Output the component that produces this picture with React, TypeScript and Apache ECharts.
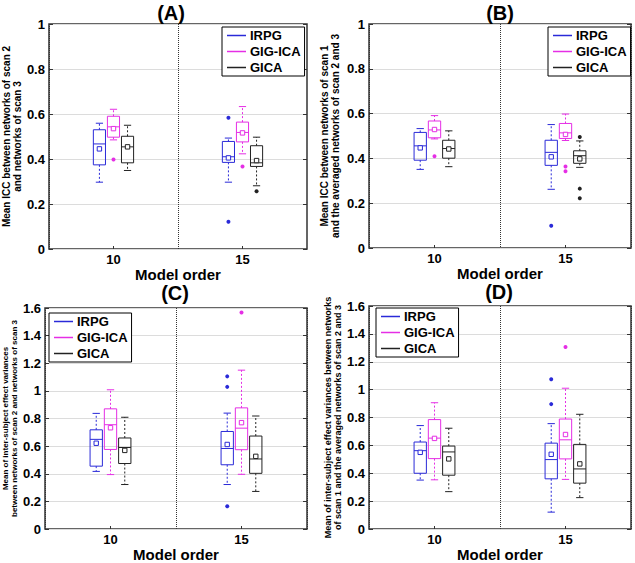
import React, { useEffect, useRef } from "react";
import * as echarts from "echarts";

const methods = ["IRPG", "GIG-ICA", "GICA"];
const methodColors = ["#2a2ad8", "#e52ee5", "#222222"];
const modelOrders = ["10", "15"];
const panelTitles = ["(A)", "(B)", "(C)", "(D)"];
const yNames = [
  "Mean ICC between networks of scan 2\nand networks of scan 3",
  "Mean ICC between networks of scan 1\nand the averaged networks of scan 2 and 3",
  "Mean of inter-subject effect variances\nbetween networks of scan 2 and networks of scan 3",
  "Mean of inter-subject effect variances between networks\nof scan 1 and the averaged networks of scan 2 and 3",
];
const yMax = [1, 1, 1.6, 1.6];

// [min, Q1, median, Q3, max, mean] per model order (10, 15)
const aIRPG = [[0.297, 0.374, 0.467, 0.53, 0.559, 0.445], [0.297, 0.385, 0.41, 0.478, 0.493, 0.405]];
const aGIG = [[0.485, 0.497, 0.543, 0.59, 0.621, 0.535], [0.423, 0.476, 0.518, 0.564, 0.633, 0.516]];
const aGICA = [[0.349, 0.383, 0.454, 0.501, 0.55, 0.454], [0.281, 0.367, 0.383, 0.459, 0.497, 0.393]];
const bIRPG = [[0.351, 0.392, 0.456, 0.516, 0.533, 0.447], [0.262, 0.369, 0.427, 0.481, 0.551, 0.407]];
const bGIG = [[0.487, 0.492, 0.527, 0.567, 0.591, 0.529], [0.48, 0.489, 0.514, 0.556, 0.598, 0.507]];
const bGICA = [[0.363, 0.401, 0.444, 0.481, 0.523, 0.442], [0.36, 0.378, 0.412, 0.434, 0.478, 0.398]];
const cIRPG = [[0.417, 0.455, 0.649, 0.718, 0.837, 0.621], [0.322, 0.465, 0.583, 0.706, 0.839, 0.612]];
const cGIG = [[0.394, 0.576, 0.755, 0.87, 1.008, 0.733], [0.396, 0.574, 0.73, 0.877, 1.15, 0.77]];
const cGICA = [[0.322, 0.474, 0.59, 0.659, 0.809, 0.569], [0.272, 0.403, 0.507, 0.673, 0.818, 0.526]];
const dIRPG = [[0.351, 0.4, 0.562, 0.624, 0.742, 0.55], [0.121, 0.36, 0.498, 0.616, 0.756, 0.536]];
const dGIG = [[0.353, 0.505, 0.652, 0.785, 0.906, 0.65], [0.356, 0.503, 0.64, 0.789, 1.01, 0.678]];
const dGICA = [[0.268, 0.386, 0.553, 0.595, 0.723, 0.503], [0.225, 0.329, 0.431, 0.607, 0.823, 0.467]];

// outliers per model order (10, 15)
const aOutIRPG = [[], [0.583, 0.121]];
const aOutGIG = [[0.398], [0.367]];
const aOutGICA = [[], [0.257]];
const bOutIRPG = [[], [0.099]];
const bOutGIG = [[0.41], [0.364, 0.343]];
const bOutGICA = [[], [0.496, 0.265, 0.222]];
const cOutIRPG = [[], [1.105, 1.029, 0.164]];
const cOutGIG = [[], [1.567]];
const cOutGICA = [[], []];
const dOutIRPG = [[], [1.074, 0.896]];
const dOutGIG = [[], [1.306]];
const dOutGICA = [[], []];

const panelStats = [
  [aIRPG, aGIG, aGICA],
  [bIRPG, bGIG, bGICA],
  [cIRPG, cGIG, cGICA],
  [dIRPG, dGIG, dGICA],
];
const panelOutliers = [
  [aOutIRPG, aOutGIG, aOutGICA],
  [bOutIRPG, bOutGIG, bOutGICA],
  [cOutIRPG, cOutGIG, cOutGICA],
  [dOutIRPG, dOutGIG, dOutGICA],
];

const FONT = '"Liberation Sans", Arial, sans-serif';

const grids = [
  { left: 41, top: 24, width: 266, height: 225 },
  { left: 369, top: 24, width: 262, height: 224 },
  { left: 45, top: 308, width: 262, height: 225 },
  { left: 369, top: 306, width: 262, height: 225 },
];
const nameGaps = [21, 28, 26, 22];
const nameSizes = [10, 10, 8, 9];
const legendPos = [
  { left: 222, top: 27 },
  { left: 548, top: 27 },
  { left: 49, top: 313 },
  { left: 376, top: 308 },
];
const titlePos = [
  [171, 13],
  [500, 13],
  [175, 293],
  [499, 292],
];

const SLOT = 0.109;

function boxRender(slot: number, color: string) {
  return (params: any, api: any) => {
    const cat = api.value(0);
    const band = api.size([1, 0])[0];
    const cx = api.coord([cat, 0])[0] + slot * SLOT * band;
    const y = (k: number) => api.coord([cat, api.value(k)])[1];
    const yMin = y(1), yQ1 = y(2), yMed = y(3), yQ3 = y(4), yMx = y(5), yMean = y(6);
    const hw = band * 0.047;
    const cw = band * 0.028;
    const solid = { stroke: color, lineWidth: 1, fill: "none" };
    const dashed = { stroke: color, lineWidth: 1, lineDash: [2, 2], fill: "none" };
    return {
      type: "group",
      children: [
        { type: "line", shape: { x1: cx, y1: yQ3, x2: cx, y2: yMx }, style: dashed },
        { type: "line", shape: { x1: cx, y1: yQ1, x2: cx, y2: yMin }, style: dashed },
        { type: "line", shape: { x1: cx - cw, y1: yMx, x2: cx + cw, y2: yMx }, style: solid },
        { type: "line", shape: { x1: cx - cw, y1: yMin, x2: cx + cw, y2: yMin }, style: solid },
        { type: "rect", shape: { x: cx - hw, y: yQ3, width: 2 * hw, height: yQ1 - yQ3 }, style: solid },
        { type: "line", shape: { x1: cx - hw, y1: yMed, x2: cx + hw, y2: yMed }, style: solid },
        { type: "rect", shape: { x: cx - 2.2, y: yMean - 2.2, width: 4.4, height: 4.4 }, style: { stroke: color, lineWidth: 1, fill: "#fff" } },
      ],
    };
  };
}

function outlierRender(slot: number, color: string) {
  return (params: any, api: any) => {
    const cat = api.value(0);
    const band = api.size([1, 0])[0];
    const p = api.coord([cat, api.value(1)]);
    return {
      type: "circle",
      shape: { cx: p[0] + slot * SLOT * band, cy: p[1], r: 2 },
      style: { fill: color },
    };
  };
}

export default function App() {
  const ref = useRef<HTMLDivElement>(null);
  useEffect(() => {
    if (!ref.current) return;
    const chart = echarts.init(ref.current, null, { renderer: "svg" });

    const xAxis: any[] = [];
    const yAxis: any[] = [];
    const series: any[] = [];
    const legend: any[] = [];
    const graphic: any[] = [];

    grids.forEach((g, p) => {
      xAxis.push({
        type: "category",
        gridIndex: p,
        data: modelOrders,
        boundaryGap: true,
        name: "Model order",
        nameLocation: "middle",
        nameGap: p < 2 ? 17 : 18,
        nameTextStyle: { fontSize: 15, fontWeight: "bold", color: "#000", fontFamily: FONT },
        axisLine: { show: false },
        axisTick: { show: true, inside: true, alignWithLabel: true, length: 3, lineStyle: { color: "#333" } },
        axisLabel: { fontSize: 13, fontWeight: "bold", color: "#000", margin: 4, fontFamily: FONT },
        splitLine: { show: true, lineStyle: { color: "#333", type: "dotted", width: 1 } },
      });
      yAxis.push({
        type: "value",
        gridIndex: p,
        min: 0,
        max: yMax[p],
        interval: 0.2,
        name: yNames[p],
        nameLocation: "middle",
        nameRotate: 90,
        nameGap: nameGaps[p],
        nameTextStyle: {
          fontSize: nameSizes[p],
          fontWeight: "bold",
          color: "#000",
          lineHeight: nameSizes[p] + 1,
          fontFamily: FONT,
        },
        axisLine: { show: false },
        axisTick: { show: true, inside: true, length: 4, lineStyle: { color: "#333" } },
        axisLabel: { fontSize: 13, fontWeight: "bold", color: "#000", margin: 4, fontFamily: FONT },
        splitLine: { show: true, lineStyle: { color: "#dcdcdc", width: 1 } },
      });
      yAxis.push({
        type: "value",
        gridIndex: p,
        position: "right",
        min: 0,
        max: yMax[p],
        interval: 0.2,
        axisLine: { show: false },
        axisTick: { show: true, inside: true, length: 4, lineStyle: { color: "#333" } },
        axisLabel: { show: false },
        splitLine: { show: false },
      });

      methods.forEach((m, k) => {
        const slot = k - 1;
        const color = methodColors[k];
        const stats = panelStats[p][k];
        series.push({
          type: "custom",
          name: m,
          xAxisIndex: p,
          yAxisIndex: 2 * p,
          itemStyle: { color },
          renderItem: boxRender(slot, color),
          encode: { x: 0, y: [1, 2, 3, 4, 5, 6] },
          data: stats.map((s, i) => [i, ...s]),
          z: 3,
        });
        const outs: number[][] = [];
        panelOutliers[p][k].forEach((vals, i) => vals.forEach((v) => outs.push([i, v])));
        series.push({
          type: "custom",
          name: m + " outliers",
          xAxisIndex: p,
          yAxisIndex: 2 * p,
          itemStyle: { color },
          renderItem: outlierRender(slot, color),
          encode: { x: 0, y: 1 },
          data: outs,
          z: 3,
        });
      });

      legend.push({
        ...legendPos[p],
        orient: "vertical",
        data: methods.map((name) => ({ name, icon: "rect" })),
        itemWidth: 19,
        itemHeight: 1.5,
        itemGap: 3,
        padding: [2, 4, 2, 5],
        borderColor: "#000",
        borderWidth: 1,
        backgroundColor: "#fff",
        selectedMode: false,
        textStyle: { fontSize: 13, fontWeight: "bold", color: "#000", fontFamily: FONT, padding: [0, 0, 0, -1] },
        z: 10,
      });

      graphic.push({
        type: "text",
        x: titlePos[p][0],
        y: titlePos[p][1],
        style: {
          text: panelTitles[p],
          font: `bold 20px ${FONT}`,
          textAlign: "center",
          textVerticalAlign: "middle",
          fill: "#000",
        },
      });
    });

    chart.setOption({
      animation: false,
      backgroundColor: "#fff",
      textStyle: { fontFamily: FONT },
      grid: grids.map((g) => ({ ...g, show: true, borderColor: "#333", borderWidth: 1.5, backgroundColor: "transparent" })),
      xAxis,
      yAxis,
      legend,
      graphic,
      series,
    });
    return () => chart.dispose();
  }, []);
  return <div ref={ref} style={{ position: "fixed", left: 0, top: 0, width: 635, height: 563 }} />;
}
